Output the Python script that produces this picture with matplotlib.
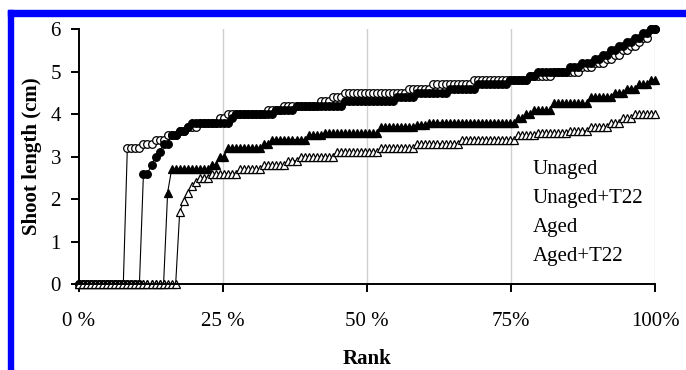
import numpy as np
import matplotlib.pyplot as plt
from matplotlib.patches import Rectangle

plt.rcParams['font.family'] = ['Liberation Serif', 'DejaVu Serif']

n_seeds = 144

# shoot length plateaus (cm) and how many seedlings sit on each
unaged_vals = [0.0, 3.2, 3.3, 3.4, 3.5, 3.6, 3.7, 3.8, 3.9, 4.0, 4.1, 4.2, 4.3, 4.4, 4.5,
               4.6, 4.7, 4.8, 4.9, 5.0, 5.1, 5.2, 5.3, 5.4, 5.5, 5.6, 5.7, 5.8, 6.0]
unaged_cnt = [12, 4, 3, 3, 3, 2, 3, 5, 2, 10, 4, 9, 3, 3, 16,
              6, 10, 14, 6, 7, 3, 3, 2, 2, 2, 2, 1, 2, 2]

unaged_t22_vals = [0.0, 2.6, 2.8, 3.0, 3.1, 3.3, 3.5, 3.6, 3.7, 3.8, 3.9, 4.0, 4.1, 4.2, 4.3, 4.4,
                   4.5, 4.6, 4.7, 4.8, 4.9, 5.0, 5.1, 5.2, 5.3, 5.4, 5.5, 5.6, 5.7, 5.8, 5.9, 6.0]
unaged_t22_cnt = [16, 2, 1, 1, 1, 2, 2, 2, 1, 10, 1, 10, 5, 12, 13, 5,
                  8, 7, 8, 5, 2, 8, 3, 3, 2, 2, 2, 2, 2, 2, 2, 2]

aged_vals = [0.0, 2.15, 2.7, 2.8, 3.0, 3.2, 3.3, 3.4, 3.5, 3.55, 3.7, 3.75, 3.8, 3.9, 4.0,
             4.1, 4.25, 4.4, 4.5, 4.6, 4.7, 4.8]
aged_cnt = [22, 1, 10, 2, 2, 9, 2, 9, 4, 14, 9, 3, 22, 2, 2,
            5, 9, 6, 3, 3, 3, 2]

aged_t22_vals = [0.0, 1.7, 1.95, 2.15, 2.3, 2.4, 2.5, 2.6, 2.7, 2.8, 2.9, 3.0, 3.1, 3.2, 3.3,
                 3.4, 3.5, 3.55, 3.6, 3.7, 3.8, 3.9, 4.0]
aged_t22_cnt = [25, 1, 1, 1, 1, 1, 3, 7, 6, 6, 3, 9, 11, 9, 11,
                14, 5, 8, 5, 5, 3, 3, 6]

labels = ['Unaged', 'Unaged+T22', 'Aged', 'Aged+T22']
xtick_labels = ['0 %', '25 %', '50 %', '75%', '100%']

rank = np.linspace(0, 1, n_seeds)

fig = plt.figure(figsize=(6.86, 3.70), dpi=100)
ax = fig.add_axes([79/686, 1-284/370, 576/686, 255/370])

styles = [
    dict(marker='o', mfc='white', mec='black', ms=5.5, mew=0.9),
    dict(marker='o', mfc='black', mec='black', ms=5.5, mew=0.9),
    dict(marker='^', mfc='black', mec='black', ms=6, mew=0.9),
    dict(marker='^', mfc='white', mec='black', ms=6, mew=0.9),
]
series = [(unaged_vals, unaged_cnt), (unaged_t22_vals, unaged_t22_cnt),
          (aged_vals, aged_cnt), (aged_t22_vals, aged_t22_cnt)]
for (vals, cnt), st, lab in zip(series, styles, labels):
    y = np.repeat(vals, cnt)
    ax.plot(rank, y, color='black', lw=0.8, label=lab, clip_on=False, **st)

ax.set_xlim(0, 1)
ax.set_ylim(0, 6)
ax.set_xticks([0, 0.25, 0.5, 0.75, 1.0])
ax.set_xticklabels(xtick_labels)
ax.set_yticks(range(7))
for xv in [0.25, 0.5, 0.75, 1.0]:
    ax.axvline(xv, color='#cfcfcf', lw=1, zorder=0)

for s in ['top', 'right']:
    ax.spines[s].set_visible(False)
for s in ['left', 'bottom']:
    ax.spines[s].set_linewidth(1.4)
ax.tick_params(axis='x', length=6, width=1.4, pad=14, labelsize=15)
ax.tick_params(axis='y', length=6, width=1.4, pad=7, labelsize=15)

ax.set_ylabel('Shoot length (cm)', fontsize=15, fontweight='bold', labelpad=6)
ax.set_xlabel('Rank', fontsize=15, fontweight='bold', labelpad=13)

leg = ax.legend(loc='upper left', bbox_to_anchor=(0.788, 0.488), frameon=False,
                handlelength=0, handletextpad=0, borderpad=0, borderaxespad=0,
                labelspacing=0.45, fontsize=15)
for h in leg.legend_handles:
    h.set_visible(False)

# blue frame around the figure (left and top edges)
fig.add_artist(Rectangle((8/686, 0), 5/686, 1-10/370, transform=fig.transFigure,
                         color='#0000ff', zorder=10))
fig.add_artist(Rectangle((8/686, 1-16/370), 1-8/686, 6/370, transform=fig.transFigure,
                         color='#0000ff', zorder=10))

fig.savefig('out.png', dpi=100)
